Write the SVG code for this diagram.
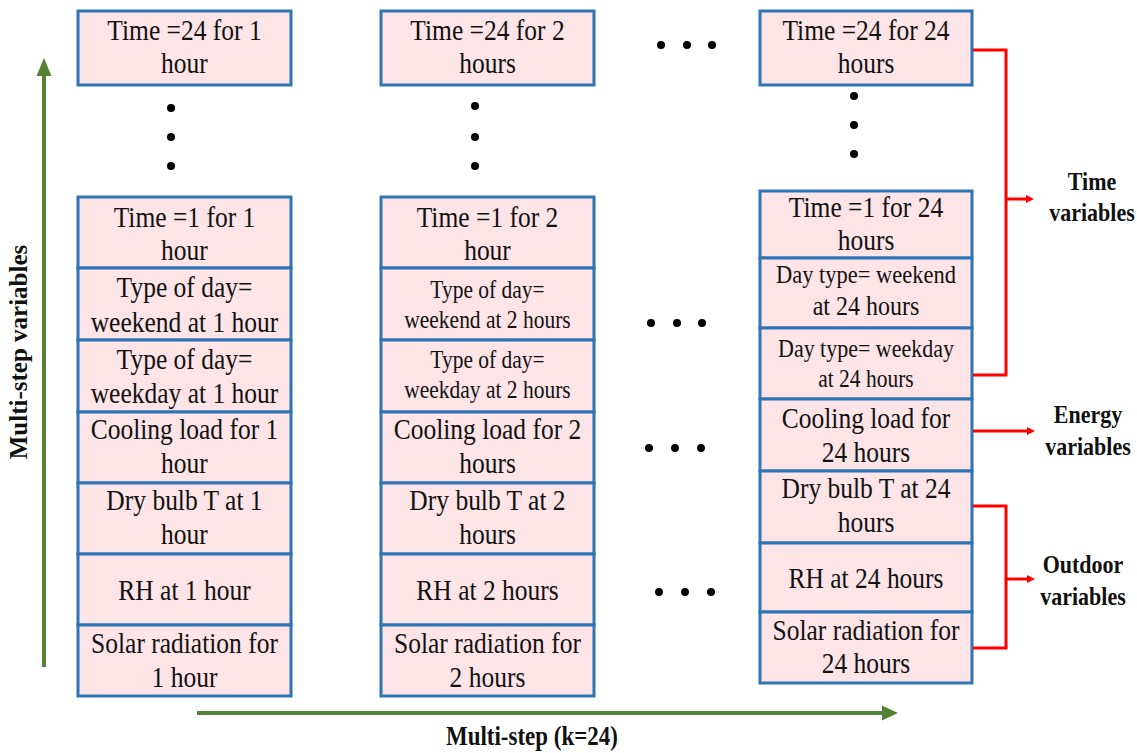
<svg xmlns="http://www.w3.org/2000/svg" width="1137" height="753" viewBox="0 0 1137 753">
<defs>
<style>
.cell{fill:#FDE4E7;stroke:#2E75B6;stroke-width:3}
.t{font-family:"Liberation Serif","Times New Roman",serif;font-size:25.5px;fill:#111;text-anchor:middle}
.s{font-size:21.5px}
.b{font-family:"Liberation Serif","Times New Roman",serif;font-weight:bold;fill:#111;text-anchor:middle}
.dot{fill:#000}
.red{stroke:#FF0000;stroke-width:3;fill:none}
.grn{stroke:#548235;stroke-width:4;fill:none}
</style>
<marker id="ra" markerWidth="8" markerHeight="8" refX="1" refY="4" orient="auto" markerUnits="userSpaceOnUse" viewBox="0 0 8 8"><path d="M0,0 L8,4 L0,8 Z" fill="#FF0000"/></marker>
</defs>
<rect width="1137" height="753" fill="#fff"/>

<!-- Column 1 -->
<g id="c1-top"><rect class="cell" x="78" y="11" width="213" height="74"/><g transform="scale(1,1.15)"><text class="t" x="184.5" y="34.78">Time =24 for 1</text><text class="t" x="184.5" y="63.48">hour</text></g></g>
<g id="c1-dots"><circle class="dot" cx="171" cy="108" r="4"/><circle class="dot" cx="171" cy="137" r="4"/><circle class="dot" cx="171" cy="166" r="4"/></g>
<g id="c1-r1"><rect class="cell" x="78" y="197" width="213" height="71"/><g transform="scale(1,1.15)"><text class="t" x="184.5" y="197.39">Time =1 for 1</text><text class="t" x="184.5" y="226.09">hour</text></g></g>
<g id="c1-r2"><rect class="cell" x="78" y="268" width="213" height="72"/><g transform="scale(1,1.15)"><text class="t" x="184.5" y="258.26">Type of day=</text><text class="t" x="184.5" y="288.7">weekend at 1 hour</text></g></g>
<g id="c1-r3"><rect class="cell" x="78" y="340" width="213" height="72"/><g transform="scale(1,1.15)"><text class="t" x="184.5" y="320.87">Type of day=</text><text class="t" x="184.5" y="350.43">weekday at 1 hour</text></g></g>
<g id="c1-r4"><rect class="cell" x="78" y="412" width="213" height="71"/><g transform="scale(1,1.15)"><text class="t" x="184.5" y="381.74">Cooling load for 1</text><text class="t" x="184.5" y="411.3">hour</text></g></g>
<g id="c1-r5"><rect class="cell" x="78" y="483" width="213" height="71"/><g transform="scale(1,1.15)"><text class="t" x="184.5" y="443.48">Dry bulb T at 1</text><text class="t" x="184.5" y="473.04">hour</text></g></g>
<g id="c1-r6"><rect class="cell" x="78" y="554" width="213" height="71"/><g transform="scale(1,1.15)"><text class="t" x="184.5" y="521.74">RH at 1 hour</text></g></g>
<g id="c1-r7"><rect class="cell" x="78" y="625" width="213" height="71"/><g transform="scale(1,1.15)"><text class="t" x="184.5" y="567.83">Solar radiation for</text><text class="t" x="184.5" y="597.39">1 hour</text></g></g>

<!-- Column 2 -->
<g id="c2-top"><rect class="cell" x="381" y="11" width="213" height="74"/><g transform="scale(1,1.15)"><text class="t" x="487.5" y="34.78">Time =24 for 2</text><text class="t" x="487.5" y="63.48">hours</text></g></g>
<g id="c2-dots"><circle class="dot" cx="475" cy="106" r="4"/><circle class="dot" cx="475" cy="137" r="4"/><circle class="dot" cx="475" cy="166" r="4"/></g>
<g id="c2-r1"><rect class="cell" x="381" y="197" width="213" height="71"/><g transform="scale(1,1.15)"><text class="t" x="487.5" y="197.39">Time =1 for 2</text><text class="t" x="487.5" y="226.09">hour</text></g></g>
<g id="c2-r2"><rect class="cell" x="381" y="268" width="213" height="72"/><g transform="scale(1,1.15)"><text class="t s" x="487.5" y="259.13">Type of day=</text><text class="t s" x="487.5" y="285.22">weekend at 2 hours</text></g></g>
<g id="c2-r3"><rect class="cell" x="381" y="340" width="213" height="72"/><g transform="scale(1,1.15)"><text class="t s" x="487.5" y="320">Type of day=</text><text class="t s" x="487.5" y="346.09">weekday at 2 hours</text></g></g>
<g id="c2-r4"><rect class="cell" x="381" y="412" width="213" height="71"/><g transform="scale(1,1.15)"><text class="t" x="487.5" y="381.74">Cooling load for 2</text><text class="t" x="487.5" y="411.3">hours</text></g></g>
<g id="c2-r5"><rect class="cell" x="381" y="483" width="213" height="71"/><g transform="scale(1,1.15)"><text class="t" x="487.5" y="443.48">Dry bulb T at 2</text><text class="t" x="487.5" y="473.04">hours</text></g></g>
<g id="c2-r6"><rect class="cell" x="381" y="554" width="213" height="71"/><g transform="scale(1,1.15)"><text class="t" x="487.5" y="521.74">RH at 2 hours</text></g></g>
<g id="c2-r7"><rect class="cell" x="381" y="625" width="213" height="71"/><g transform="scale(1,1.15)"><text class="t" x="487.5" y="567.83">Solar radiation for</text><text class="t" x="487.5" y="597.39">2 hours</text></g></g>

<!-- Horizontal ellipses -->
<g id="h-dots">
<circle class="dot" cx="661" cy="45" r="4"/><circle class="dot" cx="687" cy="45" r="4"/><circle class="dot" cx="712" cy="45" r="4"/>
<circle class="dot" cx="651" cy="323" r="4"/><circle class="dot" cx="677" cy="323" r="4"/><circle class="dot" cx="702" cy="323" r="4"/>
<circle class="dot" cx="649" cy="448" r="4"/><circle class="dot" cx="675" cy="448" r="4"/><circle class="dot" cx="701" cy="448" r="4"/>
<circle class="dot" cx="659" cy="592" r="4"/><circle class="dot" cx="685" cy="592" r="4"/><circle class="dot" cx="711" cy="592" r="4"/>
</g>

<!-- Column 3 -->
<g id="c3-top"><rect class="cell" x="760" y="11" width="212" height="74"/><g transform="scale(1,1.15)"><text class="t" x="866" y="34.78">Time =24 for 24</text><text class="t" x="866" y="63.48">hours</text></g></g>
<g id="c3-dots"><circle class="dot" cx="854" cy="96" r="4"/><circle class="dot" cx="854" cy="125" r="4"/><circle class="dot" cx="854" cy="154" r="4"/></g>
<g id="c3-r1"><rect class="cell" x="760" y="191" width="212" height="67"/><g transform="scale(1,1.15)"><text class="t" x="866" y="188.7">Time =1 for 24</text><text class="t" x="866" y="217.39">hours</text></g></g>
<g id="c3-r2"><rect class="cell" x="760" y="258" width="212" height="70"/><g transform="scale(1,1.15)"><text class="t" x="866" y="246.09" style="font-size:22.5px">Day type= weekend</text><text class="t" x="866" y="273.91" style="font-size:24px">at 24 hours</text></g></g>
<g id="c3-r3"><rect class="cell" x="760" y="328" width="212" height="71"/><g transform="scale(1,1.15)"><text class="t" x="866" y="310.43" style="font-size:22px">Day type= weekday</text><text class="t" x="866" y="336.52" style="font-size:21.5px">at 24 hours</text></g></g>
<g id="c3-r4"><rect class="cell" x="760" y="399" width="212" height="72"/><g transform="scale(1,1.15)"><text class="t" x="866" y="372.17">Cooling load for</text><text class="t" x="866" y="401.74">24 hours</text></g></g>
<g id="c3-r5"><rect class="cell" x="760" y="471" width="212" height="72"/><g transform="scale(1,1.15)"><text class="t" x="866" y="433.04">Dry bulb T at 24</text><text class="t" x="866" y="462.61">hours</text></g></g>
<g id="c3-r6"><rect class="cell" x="760" y="543" width="212" height="69"/><g transform="scale(1,1.15)"><text class="t" x="866" y="511.3">RH at 24 hours</text></g></g>
<g id="c3-r7"><rect class="cell" x="760" y="612" width="212" height="71"/><g transform="scale(1,1.15)"><text class="t" x="866" y="556.52">Solar radiation for</text><text class="t" x="866" y="585.22">24 hours</text></g></g>

<!-- Connectors -->
<g id="connectors">
<path class="red" d="M973,50 H1006 V375 H973"/>
<path class="red" d="M1006,199 H1027" marker-end="url(#ra)"/>
<path class="red" d="M973,431 H1028" marker-end="url(#ra)"/>
<path class="red" d="M973,506 H1006 V648 H973"/>
<path class="red" d="M1006,579 H1028" marker-end="url(#ra)"/>
<path class="grn" d="M44,667 V74"/>
<path d="M36.5,76 L44,58 L51.5,76 Z" fill="#548235"/>
<path class="grn" d="M197,713 H884"/>
<path d="M882,705.5 L898,713 L882,720.5 Z" fill="#548235"/>
</g>

<!-- Labels -->
<g id="label-time" transform="scale(1,1.15)"><text class="b" x="1092" y="165.22" style="font-size:22px">Time</text><text class="b" x="1092" y="192.17" style="font-size:22px">variables</text></g>
<g id="label-energy" transform="scale(1,1.15)"><text class="b" x="1088" y="367.83" style="font-size:22px">Energy</text><text class="b" x="1088" y="395.65" style="font-size:22px">variables</text></g>
<g id="label-outdoor" transform="scale(1,1.15)"><text class="b" x="1083" y="498.26" style="font-size:22px">Outdoor</text><text class="b" x="1083" y="526.09" style="font-size:22px">variables</text></g>
<g id="label-y"><text class="b" transform="translate(27,352) rotate(-90)" x="0" y="0" style="font-size:25px">Multi-step variables</text></g>
<g id="label-x" transform="scale(1,1.15)"><text class="b" x="532" y="647.83" style="font-size:23px">Multi-step (k=24)</text></g>
</svg>
